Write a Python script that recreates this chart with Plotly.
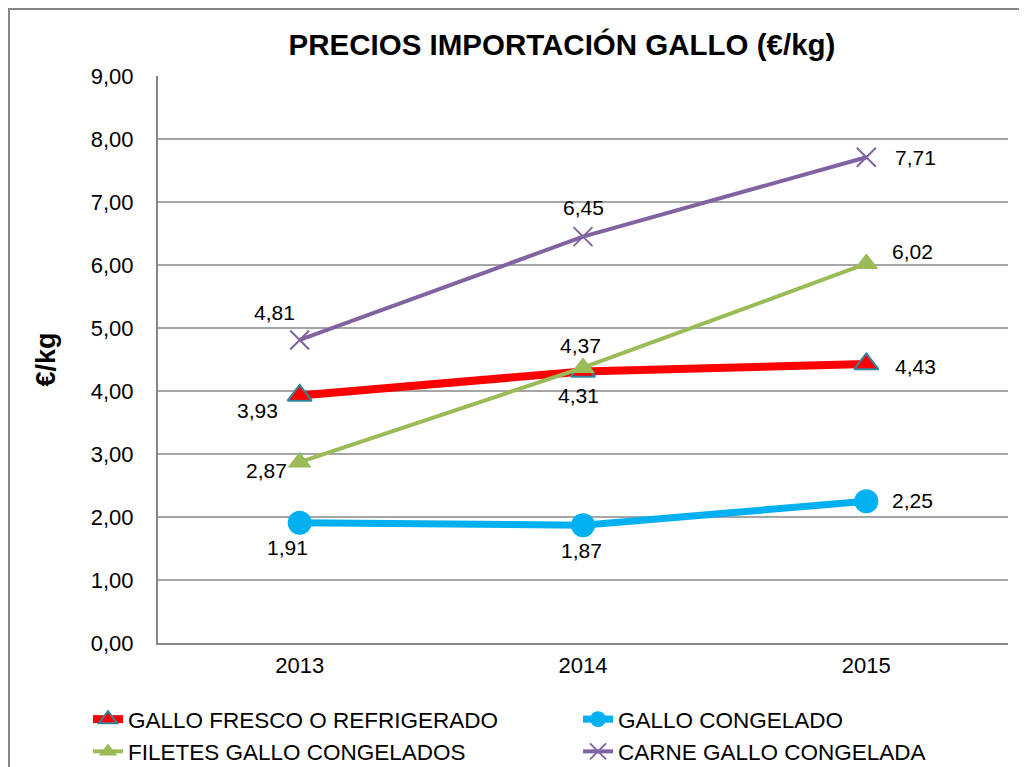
import plotly.graph_objects as go

years = ["2013", "2014", "2015"]
fresco = [3.93, 4.31, 4.43]
congelado = [1.91, 1.87, 2.25]
filetes = [2.87, 4.37, 6.02]
carne = [4.81, 6.45, 7.71]
y_ticks = [0, 1, 2, 3, 4, 5, 6, 7, 8, 9]
y_tick_text = ["0,00", "1,00", "2,00", "3,00", "4,00", "5,00", "6,00", "7,00", "8,00", "9,00"]

xpos = list(range(len(years)))
FONT = "Liberation Sans, Arial"

# figure-pixel geometry of the plot area
L, R, T, B = 150, 1000, 68, 635
W, H = R - L, B - T

fig = go.Figure()
fig.add_trace(go.Scatter(x=xpos, y=fresco, name="GALLO FRESCO O REFRIGERADO", mode="lines+markers",
                         line=dict(color="#FF0000", width=8),
                         marker=dict(symbol="triangle-up", size=21, color="#FF0000",
                                     line=dict(color="#31859C", width=2))))
fig.add_trace(go.Scatter(x=xpos, y=congelado, name="GALLO CONGELADO", mode="lines+markers",
                         line=dict(color="#00B0F0", width=7),
                         marker=dict(symbol="circle", size=24, color="#00B0F0")))
fig.add_trace(go.Scatter(x=xpos, y=filetes, name="FILETES GALLO CONGELADOS", mode="lines+markers",
                         line=dict(color="#9BBB59", width=4),
                         marker=dict(symbol="triangle-up", size=21, color="#9BBB59")))
fig.add_trace(go.Scatter(x=xpos, y=carne, name="CARNE GALLO CONGELADA", mode="lines+markers",
                         line=dict(color="#8064A2", width=4),
                         marker=dict(symbol="x-thin", size=19, color="#8064A2",
                                     line=dict(color="#8064A2", width=2))))

def fmt(v):
    return f"{v:.2f}".replace(".", ",")

# label offsets (pixels) per series per point
offsets = {
    0: [(-42, -15), (-5, -24), (49, -3)],
    1: [(-12, -25), (-2, -25), (46, 1)],
    2: [(-33, -8), (-3, 22), (46, 12)],
    3: [(-25, 27), (0, 29), (49, 0)],
}
series = [fresco, congelado, filetes, carne]
for si, vals in enumerate(series):
    for i, v in enumerate(vals):
        dx, dy = offsets[si][i]
        fig.add_annotation(x=xpos[i], y=v, text=fmt(v), showarrow=False,
                           xshift=dx, yshift=dy,
                           font=dict(family=FONT, size=21, color="#000000"))

# outer chart frame
fig.add_shape(type="rect", xref="paper", yref="paper",
              x0=(1 - L) / W, x1=(1060 - L) / W,
              y0=(B - 800) / H, y1=(B - 1) / H,
              line=dict(color="#868686", width=2), fillcolor="rgba(0,0,0,0)", layer="below")

fig.update_layout(
    width=1027, height=767,
    margin=dict(l=L, r=1027 - R, t=T, b=767 - B, autoexpand=False),
    paper_bgcolor="white", plot_bgcolor="white",
    title=dict(text="<b>PRECIOS IMPORTACIÓN GALLO (€/kg)</b>", x=554 / 1027, xanchor="center",
               y=1 - 37 / 767, yanchor="middle",
               font=dict(family=FONT, size=29.5, color="#000000")),
    xaxis=dict(range=[-0.5, 2.5], tickvals=xpos, ticktext=years, showgrid=False,
               showline=True, linecolor="#868686", linewidth=2, zeroline=False,
               ticks="", tickfont=dict(family=FONT, size=22, color="#000000"),
               ticklabelstandoff=2),
    yaxis=dict(range=[0, 9], tickvals=y_ticks, ticktext=y_tick_text, showgrid=True,
               gridcolor="#A6A6A6", gridwidth=1.5, showline=True, linecolor="#868686", linewidth=2,
               zeroline=False, ticks="", ticklabelstandoff=18,
               tickfont=dict(family=FONT, size=22, color="#000000"),
               title=dict(text="<b>€/kg</b>", standoff=27,
                          font=dict(family=FONT, size=27, color="#000000"))),
    legend=dict(orientation="h", x=(80 - L) / W, xanchor="left", y=(B - 690) / H, yanchor="top",
                entrywidth=445, entrywidthmode="pixels", tracegroupgap=0,
                font=dict(family=FONT, size=22.5, color="#000000"),
                bgcolor="rgba(0,0,0,0)"),
    showlegend=True,
)

fig.write_html("out.html")
